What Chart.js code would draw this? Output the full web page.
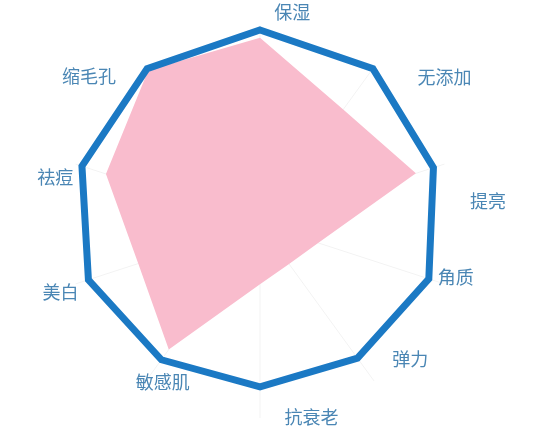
<!DOCTYPE html>
<html lang="zh">
<head>
<meta charset="utf-8">
<title>护肤功效雷达图</title>
<script src="https://cdn.jsdelivr.net/npm/chart.js@4.4.1/dist/chart.umd.min.js"></script>
<style>
  html, body { margin: 0; padding: 0; background: #fff; }
  canvas { display: block; }
</style>
</head>
<body>
<canvas id="radarChart" width="549" height="430"></canvas>
<script>
'use strict';

const categories = ['保湿', '无添加', '提亮', '角质', '弹力', '抗衰老', '敏感肌', '美白', '祛痘', '缩毛孔'];
// blue frame round the chart
const frameValues = [100, 99, 94, 91.5, 85.5, 84, 86.5, 93, 96.5, 99];
// pink product shape
const productValues = [96, 73, 84.5, 31.5, 25.5, 31, 80, 66, 83.5, 98];
const scaleMin = 0;
const scaleMax = 100;

// where each name sits: distance from centre (px) and a small turn (deg)
const labelDistance = [214, 236, 229, 203, 202, 200, 186, 211, 210, 226];
const labelTurn = [8.7, 15.4, 12.4, -2.7, -12.1, -14.9, -4.5, -0.9, -5.2, -13.2];

const axisNames = {
  id: 'axisNames',
  afterDatasetsDraw(chart) {
    const scale = chart.scales.r;
    const ctx = chart.ctx;
    ctx.save();
    ctx.font = '18px "Noto Sans CJK SC", sans-serif';
    ctx.fillStyle = '#4a86b4';
    ctx.textAlign = 'center';
    ctx.textBaseline = 'middle';
    categories.forEach((name, i) => {
      const p = scale.getPointPosition(i, labelDistance[i], labelTurn[i] * Math.PI / 180);
      ctx.fillText(name, p.x, p.y);
    });
    ctx.restore();
  }
};

function displayChart() {
  const chartGraphics = {
    type: 'radar',
    data: {
      labels: categories,
      datasets: [{
        label: 'frame',
        data: frameValues,
        fill: false,
        borderColor: '#1b79c4',
        borderWidth: 7,
        borderJoinStyle: 'miter',
        pointRadius: 0,
        order: 0
      },
      {
        label: 'product',
        data: productValues,
        fill: true,
        backgroundColor: '#f9bccd',
        borderWidth: 0,
        pointRadius: 0,
        order: 1
      }]
    },
    options: {
      responsive: false,
      animation: false,
      layout: {
        padding: { left: 66, right: 95, top: 30, bottom: 12 }
      },
      plugins: {
        legend: { display: false },
        tooltip: { enabled: false }
      },
      scales: {
        r: {
          min: scaleMin,
          max: scaleMax,
          grid: { display: false },
          angleLines: { display: true, color: 'rgba(0, 0, 0, 0.05)', lineWidth: 1 },
          ticks: { display: false },
          pointLabels: { display: false }
        }
      }
    },
    plugins: [axisNames]
  };
  let canvasChart = document.getElementById('radarChart').getContext('2d');
  const myChart = new Chart(canvasChart, chartGraphics);
}

displayChart();
</script>
</body>
</html>
